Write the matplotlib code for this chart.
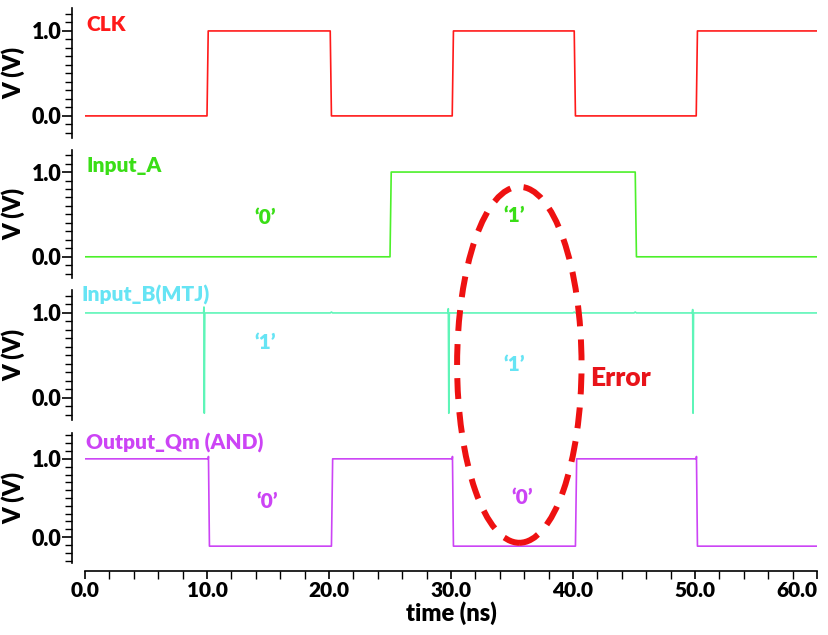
import numpy as np
import matplotlib
matplotlib.use('Agg')
import matplotlib.pyplot as plt
from matplotlib.patches import Ellipse
from matplotlib.ticker import MultipleLocator

plt.rcParams['font.family'] = ['Lato', 'DejaVu Sans']

#%% Data, time in ns, voltage in V
t_clk = [0, 10.0, 10.1, 20.1, 20.2, 30.1, 30.2, 40.1, 40.2, 50.1, 50.2, 60]
v_clk = [0, 0, 1, 1, 0, 0, 1, 1, 0, 0, 1, 1]

t_a = [0, 25.0, 25.1, 45.1, 45.2, 60]
v_a = [0, 0, 1, 1, 0, 0]

t_b = [0, 9.72, 9.75, 9.78, 9.82, 20.1, 20.2, 20.3, 29.75, 29.78, 29.82, 29.86,
       40.0, 40.1, 40.2, 45.0, 45.1, 45.2, 49.78, 49.81, 49.84, 49.88, 60]
v_b = [1, 1, 1.07, -0.18, 1, 1, 1.01, 1, 1, 1.05, -0.18, 1,
       1, 1.01, 1, 1, 1.01, 1, 1, 1.04, -0.18, 1, 1]

t_q = [0, 10.1, 10.12, 10.2, 20.2, 20.3, 30.1, 30.12, 30.2, 40.2, 40.3, 50.1, 50.12, 50.2, 60]
v_q = [1, 1, 1.03, -0.115, -0.115, 1, 1, 1.03, -0.115, -0.115, 1, 1, 1.03, -0.115, -0.115]

names = ['CLK', 'Input_A', 'Input_B(MTJ)', 'Output_Qm (AND)']
line_colors = ['#ff1a1a', '#4cf02a', '#5ef5b8', '#cc44f5']
text_colors = ['#ff1a1a', '#3ade16', '#66e4f4', '#cc44f5']

#%% Figure with 4 stacked panels
fig = plt.figure(figsize=(8.29, 6.35), dpi=100)
W, H = 829., 635.
left, width = 85 / W, 732 / W
# top, bottom of each y spine in pixels
spans = [(8, 138), (150, 278), (290, 420), (433, 563)]
ylims = [(-0.26, 1.27), (-0.25, 1.26), (-0.26, 1.27), (-0.33, 1.33)]

axes = []
for i, (top, bot) in enumerate(spans):
    ax = fig.add_axes([left, 1 - bot / H, width, (bot - top) / H])
    ax.set_facecolor('none')
    ax.set_xlim(0, 60)
    ax.set_ylim(*ylims[i])
    for s in ['top', 'right']:
        ax.spines[s].set_visible(False)
    ax.spines['left'].set_position(('outward', 9))
    ax.spines['left'].set_linewidth(1.2)
    ax.set_yticks([0, 1])
    ax.set_yticklabels(['0.0', '1.0'])
    ax.yaxis.set_minor_locator(MultipleLocator(0.1))
    ax.tick_params(axis='y', which='major', length=7, width=1.2, labelsize=15.5, pad=1)
    ax.tick_params(axis='y', which='minor', length=5, width=1.0)
    for lab in ax.get_yticklabels():
        lab.set_fontweight('heavy')
    ax.set_ylabel('V (V)', fontsize=17, fontweight='heavy')
    ax.yaxis.set_label_coords(-0.082, 0.5)
    if i < 3:
        ax.spines['bottom'].set_visible(False)
        ax.set_xticks([])
    axes.append(ax)

ax1, ax2, ax3, ax4 = axes
ax1.plot(t_clk, v_clk, color=line_colors[0], lw=1.2)
ax2.plot(t_a, v_a, color=line_colors[1], lw=1.2)
ax3.plot(t_b, v_b, color=line_colors[2], lw=1.2)
ax4.plot(t_q, v_q, color=line_colors[3], lw=1.2)

# signal names
name_pos = [(0.15, 1.08), (0.15, 1.08), (-0.25, 1.21), (0.1, 1.2)]
for ax, n, c, p in zip(axes, names, text_colors, name_pos):
    ax.text(p[0], p[1], n, color=c, fontsize=15, fontweight=800,
            ha='left', va='center', clip_on=False)

# logic values
kw = dict(fontsize=15, fontweight=800, ha='center', va='center')
ax2.text(14.8, 0.46, '\u20180\u2019', color=text_colors[1], **kw)
ax2.text(35.2, 0.49, '\u20181\u2019', color=text_colors[1], **kw)
ax3.text(14.8, 0.65, '\u20181\u2019', color=text_colors[2], **kw)
ax3.text(35.2, 0.39, '\u20181\u2019', color=text_colors[2], **kw)
ax4.text(14.9, 0.45, '\u20180\u2019', color=text_colors[3], **kw)
ax4.text(35.8, 0.50, '\u20180\u2019', color=text_colors[3], **kw)
ax3.text(43.9, 0.235, 'Error', color='#e8141a', fontsize=19, fontweight=800,
         ha='center', va='center')

# x axis on the bottom panel
ax4.spines['bottom'].set_position(('outward', 6))
ax4.spines['bottom'].set_linewidth(1.2)
ax4.set_xticks(np.arange(0, 61, 10))
ax4.set_xticklabels(['%.1f' % v for v in np.arange(0, 61, 10)])
ax4.xaxis.set_minor_locator(MultipleLocator(2))
ax4.tick_params(axis='x', which='major', length=6, width=1.2, labelsize=15, pad=1)
ax4.tick_params(axis='x', which='minor', length=6, width=1.0)
for lab in ax4.get_xticklabels():
    lab.set_fontweight('heavy')
# last label pulled in a little so it stays inside the figure
ax4.get_xticklabels()[-1].set_ha('right')
ax4.get_xticklabels()[-1].set_x(60.0)
ax4.set_xlabel('time (ns)', fontsize=17, fontweight='heavy', labelpad=1)

# dashed ellipse round the error region
ell = Ellipse((35.6, 0.39), 10.2, 4.19, transform=ax3.transData, fill=False,
              edgecolor='#ee1111', lw=4.3, linestyle=(0, (3.5, 2.2)), zorder=10)
fig.add_artist(ell)

plt.savefig('out.png', dpi=100)
